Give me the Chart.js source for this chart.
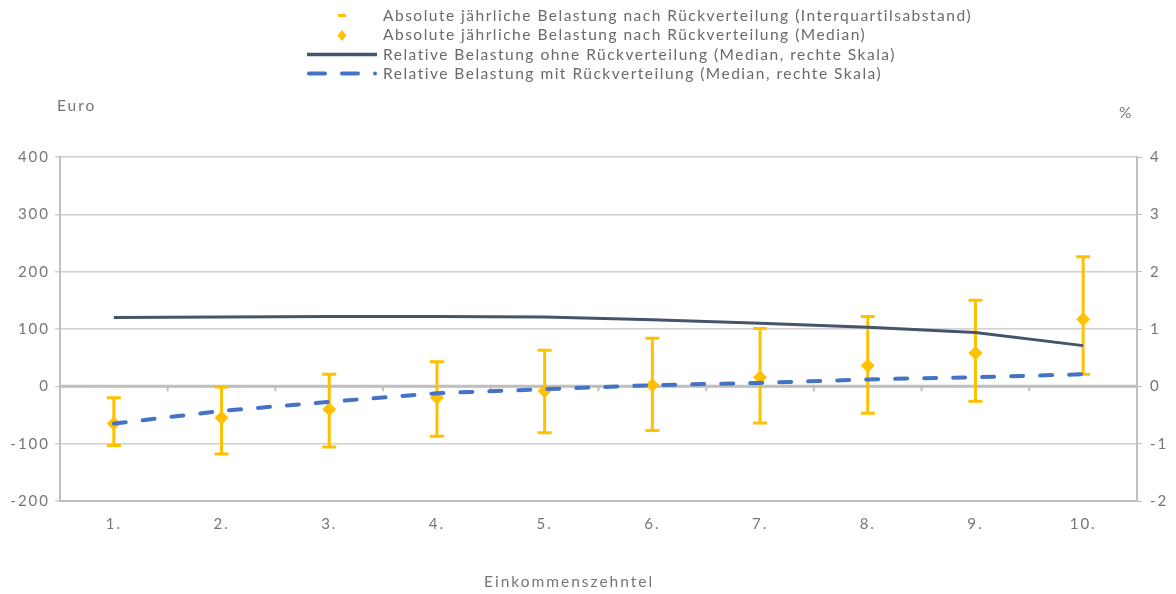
<!DOCTYPE html>
<html>
<head>
<meta charset="utf-8">
<script src="https://cdn.jsdelivr.net/npm/chart.js@4.4.0/dist/chart.umd.min.js"></script>
<style>
  html, body { margin: 0; padding: 0; background: #fff; }
  #wrap { position: relative; width: 1176px; height: 594px; font-family: Lato, "Noto Sans", sans-serif; color: #595959; }
  #chart { position: absolute; left: 0; top: 0; }
  .lbl { position: absolute; font-size: 15.5px; letter-spacing: 2px; color: #767676; white-space: nowrap; }
  #legend { position: absolute; left: 300px; top: 6px; font-size: 15.5px; letter-spacing: 1.5px; color: #6a6a6a; }
  #legend .row { height: 19.4px; line-height: 19.4px; display: flex; align-items: center; }
  #legend svg { width: 78px; height: 19px; flex: none; }
  #legend span { margin-left: 5px; }
</style>
</head>
<body>
<div id="wrap">
  <canvas id="chart" width="1176" height="594"></canvas>
  <div id="legend">
    <div class="row"><svg viewBox="0 0 78 19"><line x1="38" y1="9.5" x2="46" y2="9.5" stroke="#FFC000" stroke-width="3"/></svg><span>Absolute jährliche Belastung nach Rückverteilung (Interquartilsabstand)</span></div>
    <div class="row"><svg viewBox="0 0 78 19"><polygon points="42,4 46.5,9.5 42,15 37.5,9.5" fill="#FFC000"/></svg><span>Absolute jährliche Belastung nach Rückverteilung (Median)</span></div>
    <div class="row"><svg viewBox="0 0 78 19"><line x1="7" y1="9.5" x2="77" y2="9.5" stroke="#44546A" stroke-width="3.5"/></svg><span>Relative Belastung ohne Rückverteilung (Median, rechte Skala)</span></div>
    <div class="row"><svg viewBox="0 0 78 19"><line x1="9" y1="9.5" x2="60" y2="9.5" stroke="#4472C4" stroke-width="4" stroke-linecap="round" stroke-dasharray="16 17"/><circle cx="75" cy="9.5" r="2" fill="#4472C4"/></svg><span>Relative Belastung mit Rückverteilung (Median, rechte Skala)</span></div>
  </div>
  <div class="lbl" style="left:57px; top:96px;">Euro</div>
  <div class="lbl" style="left:1119px; top:103px;">%</div>
  <div class="lbl" style="left:484px; top:572px;">Einkommenszehntel</div>
</div>
<script>
const deciles = ['1.', '2.', '3.', '4.', '5.', '6.', '7.', '8.', '9.', '10.'];
const euroMedian = [-65, -55, -40, -20, -8, 2, 16, 36, 58, 117];
const euroQ25 = [-103, -118, -106, -87, -81, -77, -64, -47, -26, 21];
const euroQ75 = [-20, -1, 21, 43, 63, 84, 101, 122, 150, 226];
const relOhne = [1.20, 1.21, 1.22, 1.22, 1.21, 1.16, 1.10, 1.03, 0.94, 0.71];
const relMit = [-0.65, -0.43, -0.27, -0.12, -0.05, 0.02, 0.06, 0.12, 0.16, 0.21];

const gray = '#BFBFBF';
const tickColor = '#767676';
const tickFont = {family: 'Lato, "Noto Sans", sans-serif', size: 15};

// breitere Schrift wie im Original
const spacing = {
    id: 'spacing',
    beforeUpdate(chart) { chart.ctx.letterSpacing = '2px'; },
    beforeDraw(chart) { chart.ctx.letterSpacing = '2px'; }
};

// Interquartilsabstand als Fehlerbalken mit Kappen
const errorBars = {
    id: 'errorBars',
    beforeDatasetsDraw(chart) {
        const ctx = chart.ctx;
        const x = chart.scales.x, y = chart.scales.y;
        ctx.save();
        ctx.strokeStyle = '#FFC000';
        ctx.lineWidth = 3;
        euroQ25.forEach((lo, i) => {
            const px = x.getPixelForValue(i);
            const yLo = y.getPixelForValue(lo), yHi = y.getPixelForValue(euroQ75[i]);
            ctx.beginPath();
            ctx.moveTo(px, yLo); ctx.lineTo(px, yHi);
            ctx.moveTo(px - 7, yLo); ctx.lineTo(px + 7, yLo);
            ctx.moveTo(px - 7, yHi); ctx.lineTo(px + 7, yHi);
            ctx.stroke();
        });
        ctx.restore();
    }
};

// Nulllinie mit Kategorie-Teilstrichen
const zeroAxis = {
    id: 'zeroAxis',
    beforeDatasetsDraw(chart) {
        const ctx = chart.ctx;
        const x = chart.scales.x, y = chart.scales.y;
        const y0 = y.getPixelForValue(0);
        ctx.save();
        ctx.strokeStyle = gray;
        ctx.lineWidth = 3;
        ctx.beginPath();
        ctx.moveTo(chart.chartArea.left, y0);
        ctx.lineTo(chart.chartArea.right, y0);
        ctx.stroke();
        ctx.lineWidth = 2;
        ctx.beginPath();
        for (let i = 0; i <= deciles.length; i++) {
            const px = x.getPixelForValue(i - 0.5);
            ctx.moveTo(px, y0);
            ctx.lineTo(px, y0 + 5);
        }
        ctx.stroke();
        ctx.restore();
    }
};

new Chart(document.getElementById('chart'), {
    type: 'line',
    data: {
        labels: deciles,
        datasets: [{
            label: 'Relative Belastung ohne Rückverteilung (Median, rechte Skala)',
            data: relOhne,
            yAxisID: 'y2',
            borderColor: '#44546A',
            borderWidth: 3,
            pointRadius: 0,
            tension: 0,
            order: 0
        }, {
            label: 'Relative Belastung mit Rückverteilung (Median, rechte Skala)',
            data: relMit,
            yAxisID: 'y2',
            borderColor: '#4472C4',
            borderWidth: 4,
            borderDash: [12, 17],
            borderCapStyle: 'round',
            pointRadius: 0,
            tension: 0,
            order: 0
        }, {
            label: 'Absolute jährliche Belastung nach Rückverteilung (Median)',
            data: euroMedian,
            yAxisID: 'y',
            showLine: false,
            pointStyle: 'rectRot',
            pointRadius: 7,
            backgroundColor: '#FFC000',
            borderColor: '#FFC000',
            borderWidth: 0,
            order: 1
        }]
    },
    options: {
        responsive: false,
        animation: false,
        layout: {padding: {top: 157, left: 0, right: 0, bottom: 0}},
        plugins: {
            legend: {display: false},
            tooltip: {enabled: false}
        },
        scales: {
            x: {
                offset: true,
                grid: {display: false, drawTicks: false},
                border: {display: true, color: gray, width: 2},
                ticks: {color: tickColor, font: tickFont, padding: 14},
                afterFit(scale) { scale.height = 93; }
            },
            y: {
                position: 'left',
                min: -200,
                max: 400,
                ticks: {stepSize: 100, color: tickColor, font: tickFont, padding: 5},
                grid: {color: '#D0D0D0', lineWidth: 1.5, tickLength: 5},
                border: {color: gray, width: 2},
                afterFit(scale) { scale.width = 60; }
            },
            y2: {
                position: 'right',
                min: -2,
                max: 4,
                ticks: {stepSize: 1, color: tickColor, font: tickFont, padding: 8},
                grid: {drawOnChartArea: false, color: gray, tickLength: 5},
                border: {color: gray, width: 2},
                afterFit(scale) { scale.width = 39; }
            }
        }
    },
    plugins: [spacing, zeroAxis, errorBars]
});
</script>
</body>
</html>
